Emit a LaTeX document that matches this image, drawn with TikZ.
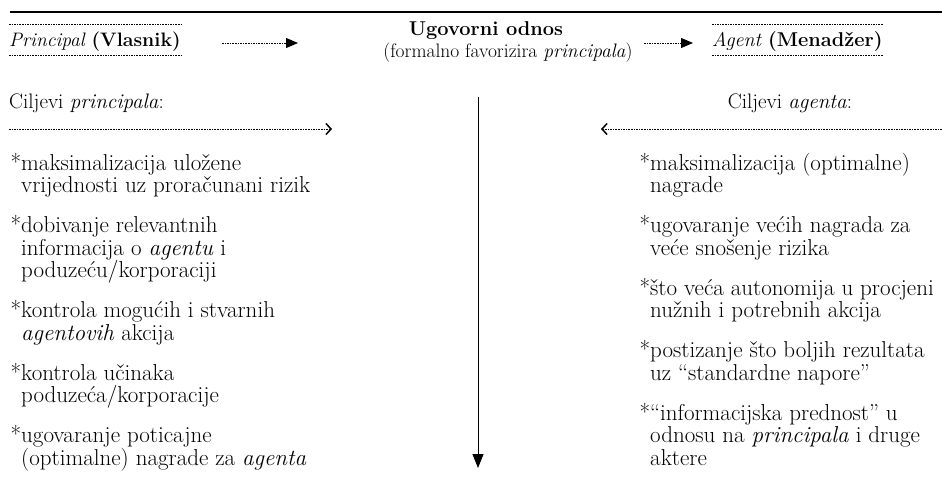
\documentclass[tikz,border=0pt]{standalone}
\usepackage{fontspec}
\usetikzlibrary{arrows.meta}
\newcommand{\itemstar}{\rule{0pt}{18pt}\llap{*}}
\begin{document}
\begin{tikzpicture}[x=1pt,y=-1pt,
  dotline/.style={line width=0.8pt, dash pattern=on 1.6pt off 1pt},
  headarrow/.style={dotline, -{Triangle[length=12pt,width=10pt]}},
  barbarrow/.style={dotline, -{Straight Barb[length=5pt,width=11pt,line width=1.5pt]}},
  downarrow/.style={line width=1pt, -{Triangle[length=14pt,width=11pt]}},
  hdr/.style={font=\fontsize{20}{22.5}\selectfont, inner sep=0pt},
  goal/.style={font=\fontsize{21}{22.5}\selectfont, inner sep=0pt},
  itm/.style={font=\fontsize{23}{22.5}\selectfont, inner sep=0pt, align=left, anchor=north west}]
\useasboundingbox (0,0) rectangle (942,480);
% top rule
\coordinate (r1) at (10,12);
\coordinate (r2) at (942,12);
\draw[line width=1.3pt] (r1) -- (r2);
% header
\node[hdr, anchor=base west, font=\fontsize{19.5}{22.5}\selectfont] (P) at (9,46) {\textit{Principal} \textbf{(Vlasnik)}};
\draw[dotline] ([yshift=22pt]P.base west) -- ([yshift=22pt]P.base east);
\draw[dotline] ([yshift=-9pt]P.base west) -- ([yshift=-9pt]P.base east);
\node[hdr, anchor=base] (U1) at (486,35) {\textbf{Ugovorni odnos}};
\node[hdr, anchor=base, font=\fontsize{19.5}{22.5}\selectfont] (U2) at (508,57) {(formalno favorizira \textit{principala})};
\node[hdr, anchor=base west] (A) at (712,46) {\textit{Agent} \textbf{(Menadžer)}};
\draw[dotline] ([yshift=22pt]A.base west) -- ([yshift=22pt]A.base east);
\draw[dotline] ([yshift=-9pt]A.base west) -- ([yshift=-9pt]A.base east);
\coordinate (a1s) at (222,43);
\coordinate (a1e) at (298,43);
\draw[headarrow] (a1s) -- (a1e);
\coordinate (a2s) at (644,43);
\coordinate (a2e) at (693,43);
\draw[headarrow] (a2s) -- (a2e);
% goals headings
\node[goal, anchor=base west] (CP) at (9,108) {Ciljevi \textit{principala}:};
\node[goal, anchor=base] (CA) at (790,108) {Ciljevi \textit{agenta}:};
\coordinate (bl1) at (9,129);
\coordinate (bl2) at (332,129);
\draw[barbarrow] (bl1) -- (bl2);
\coordinate (br1) at (942,129);
\coordinate (br2) at (601,129);
\draw[barbarrow] (br1) -- (br2);
% vertical arrow
\coordinate (vt) at (478,97);
\coordinate (vb) at (478,468);
\draw[downarrow] (vt) -- (vb);
% left items (node top = first baseline - 18)
\node[itm] (L1) at (21,152) {\itemstar maksimalizacija uložene\\vrijednosti uz proračunani rizik};
\node[itm] (L2) at (21,214.5) {\itemstar dobivanje relevantnih\\informacija o \textit{agentu} i\\poduzeću/korporaciji};
\node[itm] (L3) at (21,299.5) {\itemstar kontrola mogućih i stvarnih\\\textit{agentovih} akcija};
\node[itm] (L4) at (21,362) {\itemstar kontrola učinaka\\poduzeća/korporacije};
\node[itm] (L5) at (21,424.5) {\itemstar ugovaranje poticajne\\(optimalne) nagrade za \textit{agenta}};
% right items
\node[itm] (R1) at (650,152) {\itemstar maksimalizacija (optimalne)\\nagrade};
\node[itm] (R2) at (650,214.5) {\itemstar ugovaranje većih nagrada za\\veće snošenje rizika};
\node[itm] (R3) at (650,277) {\itemstar što veća autonomija u procjeni\\nužnih i potrebnih akcija};
\node[itm] (R4) at (650,339.5) {\itemstar postizanje što boljih rezultata\\uz “standardne napore”};
\node[itm] (R5) at (650,402) {\itemstar “informacijska prednost” u\\odnosu na \textit{principala} i druge\\aktere};
\end{tikzpicture}
\end{document}
